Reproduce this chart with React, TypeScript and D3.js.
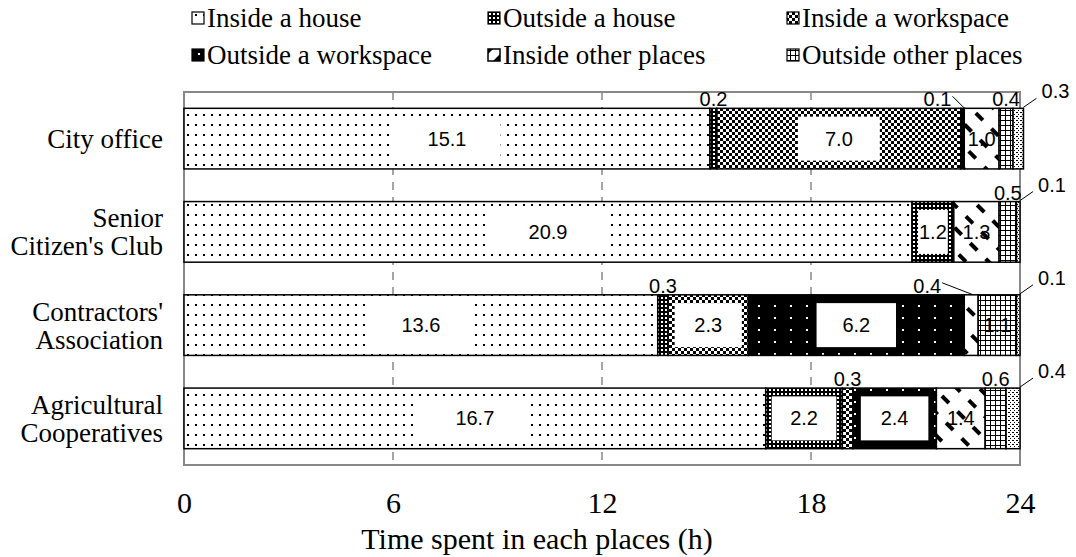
import React, { useEffect, useRef } from "react";
import * as d3 from "d3";

const categories = [
  ["City office"],
  ["Senior", "Citizen's Club"],
  ["Contractors'", "Association"],
  ["Agricultural", "Cooperatives"],
];
const categoryKeys = ["City office", "Senior Citizen's Club", "Contractors' Association", "Agricultural Cooperatives"];

const seriesNames = [
  "Inside a house",
  "Outside a house",
  "Inside a workspace",
  "Outside a workspace",
  "Inside other places",
  "Outside other places",
  "Other",
];

// hours per category, in series order
const cityOffice = [15.1, 0.2, 7.0, 0.1, 1.0, 0.4, 0.3];
const seniorClub = [20.9, 1.2, 0, 0, 1.3, 0.5, 0.1];
const contractors = [13.6, 0.3, 2.3, 6.2, 0.4, 1.1, 0.1];
const agricultural = [16.7, 2.2, 0.3, 2.4, 1.4, 0.6, 0.4];
const values = [cityOffice, seniorClub, contractors, agricultural];

const xTicks = [0, 6, 12, 18, 24];

// labels that get pushed left with a leader line
const leftNudge: Record<string, number> = {
  "City office|Outside a workspace": -25,
  "Contractors' Association|Inside other places": -44,
};

const SERIF = "Liberation Serif, Times New Roman, serif";
const SANS = "Liberation Sans, Arial, sans-serif";

export default function App() {
  const svgRef = useRef<SVGSVGElement>(null);
  const width = 1076;
  const height = 557;

  useEffect(() => {
    const svg = d3.select(svgRef.current);
    svg.selectAll("*").remove();

    const left = 184, right = 1020, top = 92, bottom = 465;
    const x = d3.scaleLinear().domain([0, 24]).range([left, right]);
    const y = d3.scaleBand<string>().domain(categoryKeys).range([top, bottom]).paddingInner(0.35).paddingOuter(0.175);

    const defs = svg.append("defs");
    const pat = (id: string, w: number, h: number) =>
      defs.append("pattern").attr("id", id).attr("patternUnits", "userSpaceOnUse").attr("width", w).attr("height", h);

    // inside a house: sparse dots
    const p0 = pat("p0", 8, 10);
    p0.append("rect").attr("width", 8).attr("height", 10).attr("fill", "#fff");
    p0.append("rect").attr("x", 3).attr("y", 4).attr("width", 2).attr("height", 2).attr("fill", "#000");
    // outside a house: black with dense white dots
    const p1 = pat("p1", 4, 4);
    p1.append("rect").attr("width", 4).attr("height", 4).attr("fill", "#000");
    p1.append("rect").attr("x", 1).attr("y", 1).attr("width", 2).attr("height", 2).attr("fill", "#fff");
    // inside a workspace: checker
    const p2 = pat("p2", 6, 6);
    p2.append("rect").attr("width", 6).attr("height", 6).attr("fill", "#fff");
    p2.append("rect").attr("width", 3).attr("height", 3).attr("fill", "#000");
    p2.append("rect").attr("x", 3).attr("y", 3).attr("width", 3).attr("height", 3).attr("fill", "#000");
    // outside a workspace: black with sparse white dots
    const p3 = pat("p3", 16, 12);
    p3.append("rect").attr("width", 16).attr("height", 12).attr("fill", "#000");
    p3.append("rect").attr("x", 6).attr("y", 5).attr("width", 2).attr("height", 2).attr("fill", "#fff");
    // inside other places: dashed diagonal strokes
    const p4 = pat("p4", 16, 22).attr("patternTransform", "rotate(-45)");
    p4.append("rect").attr("width", 16).attr("height", 22).attr("fill", "#fff");
    p4.append("rect").attr("x", 0).attr("y", 0).attr("width", 4).attr("height", 10).attr("fill", "#000");
    // outside other places: grid
    const p5 = pat("p5", 5, 5);
    p5.append("rect").attr("width", 5).attr("height", 5).attr("fill", "#fff");
    p5.append("rect").attr("width", 5).attr("height", 1).attr("fill", "#000");
    p5.append("rect").attr("width", 1).attr("height", 5).attr("fill", "#000");
    // other: small diagonal dashes
    const p6 = pat("p6", 4, 4);
    p6.append("rect").attr("width", 4).attr("height", 4).attr("fill", "#fff");
    p6.append("rect").attr("x", 0).attr("y", 0).attr("width", 2).attr("height", 1).attr("fill", "#000");
    p6.append("rect").attr("x", 2).attr("y", 2).attr("width", 1).attr("height", 1).attr("fill", "#000");

    // frame
    svg.append("rect")
      .attr("x", left).attr("y", top).attr("width", right - left).attr("height", bottom - top)
      .attr("fill", "none").attr("stroke", "#888").attr("stroke-width", 2);

    // gridlines
    svg.append("g").selectAll("line").data(xTicks.slice(1, -1)).enter().append("line")
      .attr("x1", (d) => x(d)).attr("x2", (d) => x(d))
      .attr("y1", top).attr("y2", bottom)
      .attr("stroke", "#888").attr("stroke-width", 1.5).attr("stroke-dasharray", "8,7");

    // bars
    categoryKeys.forEach((cat, ci) => {
      const vals = values[ci];
      let acc = 0;
      const segs = vals.map((v, si) => {
        const s = { cat, si, v, x0: acc, x1: acc + v };
        acc += v;
        return s;
      }).filter((s) => s.v > 0);
      const by = y(cat)!;
      const bh = y.bandwidth();
      const g = svg.append("g");
      g.selectAll("rect").data(segs).enter().append("rect")
        .attr("x", (d) => x(d.x0)).attr("y", by)
        .attr("width", (d) => x(d.x1) - x(d.x0)).attr("height", bh)
        .attr("fill", (d) => `url(#p${d.si})`)
        .attr("stroke", "#000").attr("stroke-width", 1.5);

      segs.forEach((s) => {
        const cx = (x(s.x0) + x(s.x1)) / 2;
        const segW = x(s.x1) - x(s.x0);
        const label = s.v.toFixed(1);
        if (s.v >= 1) {
          if (segW >= 40 && s.si !== 4) {
            const bw = Math.min(segW - 12, 60 + segW * 0.09);
            g.append("rect").attr("x", cx - bw / 2).attr("y", by + bh / 2 - 22)
              .attr("width", bw).attr("height", 44).attr("fill", "#fff");
          }
          g.append("text").attr("x", cx).attr("y", by + bh / 2).attr("dy", "0.35em")
            .attr("text-anchor", "middle").attr("font-family", SANS)
            .attr("font-size", 20).attr("fill", "#000").text(label);
        } else if (s.si === 6) {
          const lx = x(s.x1) + 32;
          const ly = by - 17;
          g.append("line").attr("x1", x(s.x1)).attr("y1", by - 1).attr("x2", x(s.x1) + 13).attr("y2", by - 10)
            .attr("stroke", "#000").attr("stroke-width", 1);
          g.append("text").attr("x", lx).attr("y", ly).attr("dy", "0.35em")
            .attr("text-anchor", "middle").attr("font-family", SANS)
            .attr("font-size", 20).text(label);
        } else {
          const nudge = leftNudge[`${cat}|${seriesNames[s.si]}`] ?? 0;
          const lx = cx + nudge;
          const ly = by - 9;
          if (nudge) {
            g.append("line").attr("x1", lx + 15).attr("y1", by - 12).attr("x2", cx + 2).attr("y2", by)
              .attr("stroke", "#000").attr("stroke-width", 1);
          }
          g.append("text").attr("x", lx).attr("y", ly).attr("dy", "0.35em")
            .attr("text-anchor", "middle").attr("font-family", SANS)
            .attr("font-size", 20).text(label);
        }
      });
    });

    // category labels
    categoryKeys.forEach((cat, ci) => {
      const lines = categories[ci];
      const cy = y(cat)! + y.bandwidth() / 2;
      const t = svg.append("text").attr("text-anchor", "end")
        .attr("font-family", SERIF).attr("font-size", 27);
      lines.forEach((ln, li) => {
        t.append("tspan").attr("x", 163)
          .attr("y", cy + (li - (lines.length - 1) / 2) * 28)
          .attr("dy", "0.35em").text(ln);
      });
    });

    // x axis
    const xAxis = d3.axisBottom(x).tickValues(xTicks).tickSize(0).tickPadding(0).tickFormat(d3.format("d"));
    const ax = svg.append("g").attr("transform", `translate(0, ${bottom + 27})`).call(xAxis);
    ax.select(".domain").remove();
    ax.selectAll("text").attr("font-family", SERIF)
      .attr("font-size", 30).attr("fill", "#000");

    svg.append("text").attr("x", 537).attr("y", 538).attr("dy", "0.35em")
      .attr("text-anchor", "middle").attr("font-family", SERIF)
      .attr("font-size", 30).text("Time spent in each places (h)");

    // legend
    const legendX = [192, 488, 787];
    const legendY = [18, 55];
    seriesNames.slice(0, 6).forEach((name, i) => {
      const lx = legendX[i % 3];
      const ly = legendY[Math.floor(i / 3)];
      if (i === 4) {
        svg.append("rect").attr("x", lx).attr("y", ly - 6).attr("width", 12).attr("height", 12)
          .attr("fill", "#fff").attr("stroke", "#000").attr("stroke-width", 1.5);
        svg.append("path")
          .attr("d", `M${lx + 12},${ly - 1} L${lx + 12},${ly + 6} L${lx + 5},${ly + 6} Z M${lx},${ly - 6} L${lx + 5},${ly - 6} L${lx},${ly - 1} Z`)
          .attr("fill", "#000");
      } else {
        svg.append("rect").attr("x", lx).attr("y", ly - 6).attr("width", 12).attr("height", 12)
          .attr("fill", `url(#p${i})`).attr("stroke", "#000").attr("stroke-width", 1.2);
      }
      svg.append("text").attr("x", lx + 15).attr("y", ly).attr("dy", "0.35em")
        .attr("font-family", SERIF).attr("font-size", 27).text(name);
    });
  }, []);

  return (
    <div style={{ position: "absolute", left: 0, top: 0 }}>
      <svg ref={svgRef} width={width} height={height} style={{ display: "block", background: "#fff" }} />
    </div>
  );
}
